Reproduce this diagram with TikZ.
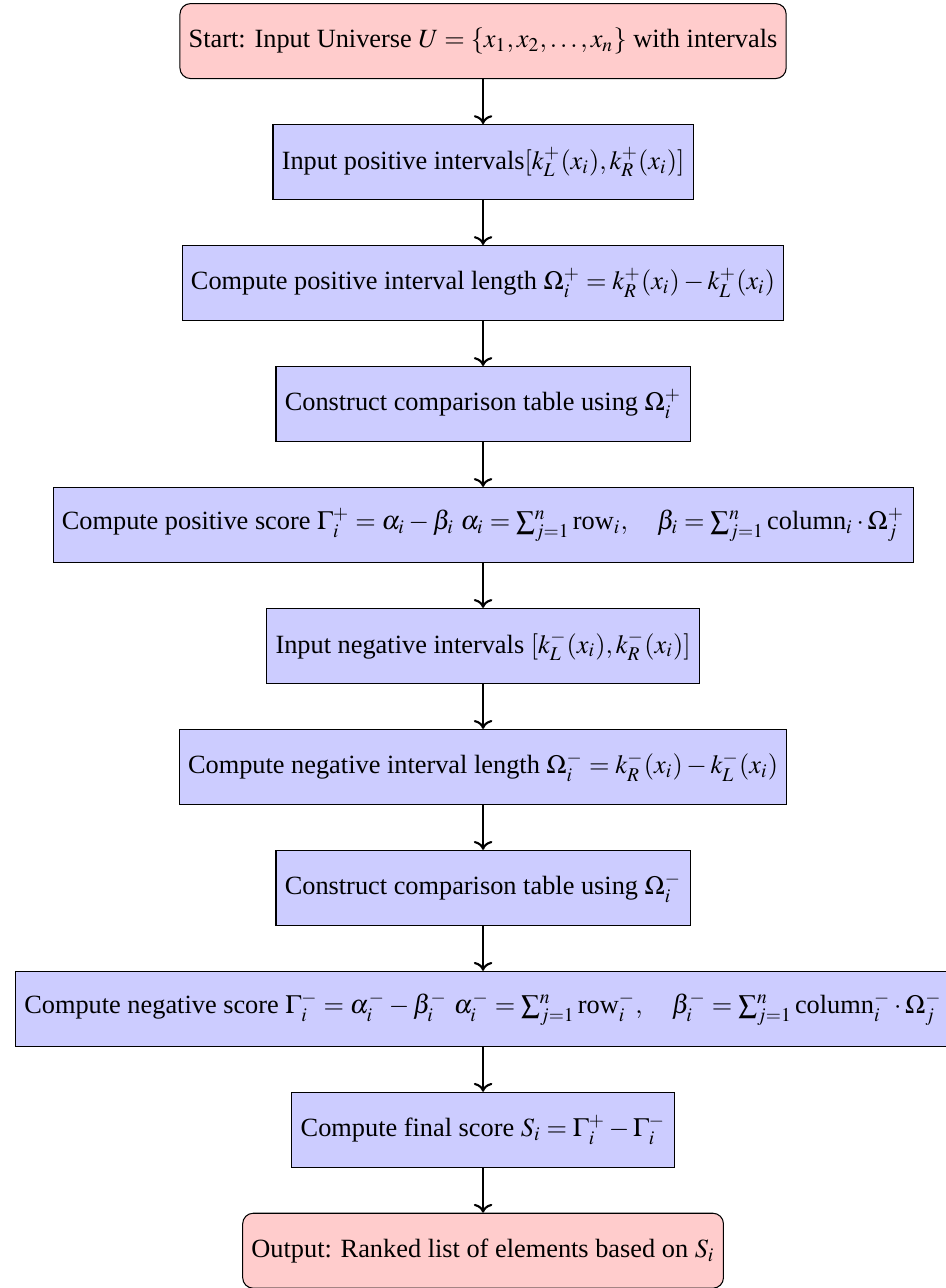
\documentclass[tikz,border=0pt]{standalone}
\usepackage{amsmath}
\usepackage{mathptmx}
\usepackage{fontspec}
\setmainfont{Liberation Serif}
\usepackage{tikz}
\usetikzlibrary{shapes,arrows,positioning,calc,arrows.meta}

\tikzset{
    startstop/.style={rectangle, rounded corners, minimum height=1cm, draw=black, fill=red!20},
    process/.style={rectangle, minimum height=1cm, draw=black, fill=blue!20},
    arrow/.style={thick,->}
}

\begin{document}
\begin{tikzpicture}[node distance=0.6cm]
    \useasboundingbox (-183.4pt,15.6pt) rectangle (175.4pt,-473.4pt);

    % Nodes
    \node (start) [startstop] {Start: Input Universe $U = \{x_1, x_2, \ldots, x_n\}$ with intervals};
    \node (posin) [process, below=of start] {Input positive intervals$[k_L^+(x_i), k_R^+(x_i)]$};
    \node (poslen) [process, below=of posin] {Compute positive interval length $\Omega_i^+ = k_R^+(x_i) - k_L^+(x_i)$};
    \node (postab) [process, below=of poslen] {Construct comparison table using $\Omega_i^+$};
    \node (posscore) [process, below=of postab] {Compute positive score $\Gamma_i^+ = \alpha_i - \beta_i$ $\alpha_i = \sum_{j=1}^n \text{row}_i, \quad \beta_i = \sum_{j=1}^n \text{column}_i \cdot \Omega_j^+$};
    \node (negin) [process, below=of posscore] {Input negative intervals $[k_L^-(x_i), k_R^-(x_i)]$};
    \node (neglen) [process, below=of negin] {Compute negative interval length $\Omega_i^- = k_R^-(x_i) - k_L^-(x_i)$};
    \node (negtab) [process, below=of neglen] {Construct comparison table using $\Omega_i^-$};
    \node (negscore) [process, below=of negtab] {Compute negative score $\Gamma_i^- = \alpha_i^- - \beta_i^-$ $\alpha_i^- = \sum_{j=1}^n \text{row}_i^-, \quad \beta_i^- = \sum_{j=1}^n \text{column}_i^- \cdot \Omega_j^-$};
    \node (final) [process, below=of negscore] {Compute final score $S_i = \Gamma_i^+ - \Gamma_i^-$};
    \node (stop) [startstop, below=of final] {Output: Ranked list of elements based on $S_i$};

    % Arrows
    \draw [arrow] (start) -- (posin);
    \draw [arrow] (posin) -- (poslen);
    \draw [arrow] (poslen) -- (postab);
    \draw [arrow] (postab) -- (posscore);
    \draw [arrow] (posscore) -- (negin);
    \draw [arrow] (negin) -- (neglen);
    \draw [arrow] (neglen) -- (negtab);
    \draw [arrow] (negtab) -- (negscore);
    \draw [arrow] (negscore) -- (final);
    \draw [arrow] (final) -- (stop);
\end{tikzpicture}
\end{document}
